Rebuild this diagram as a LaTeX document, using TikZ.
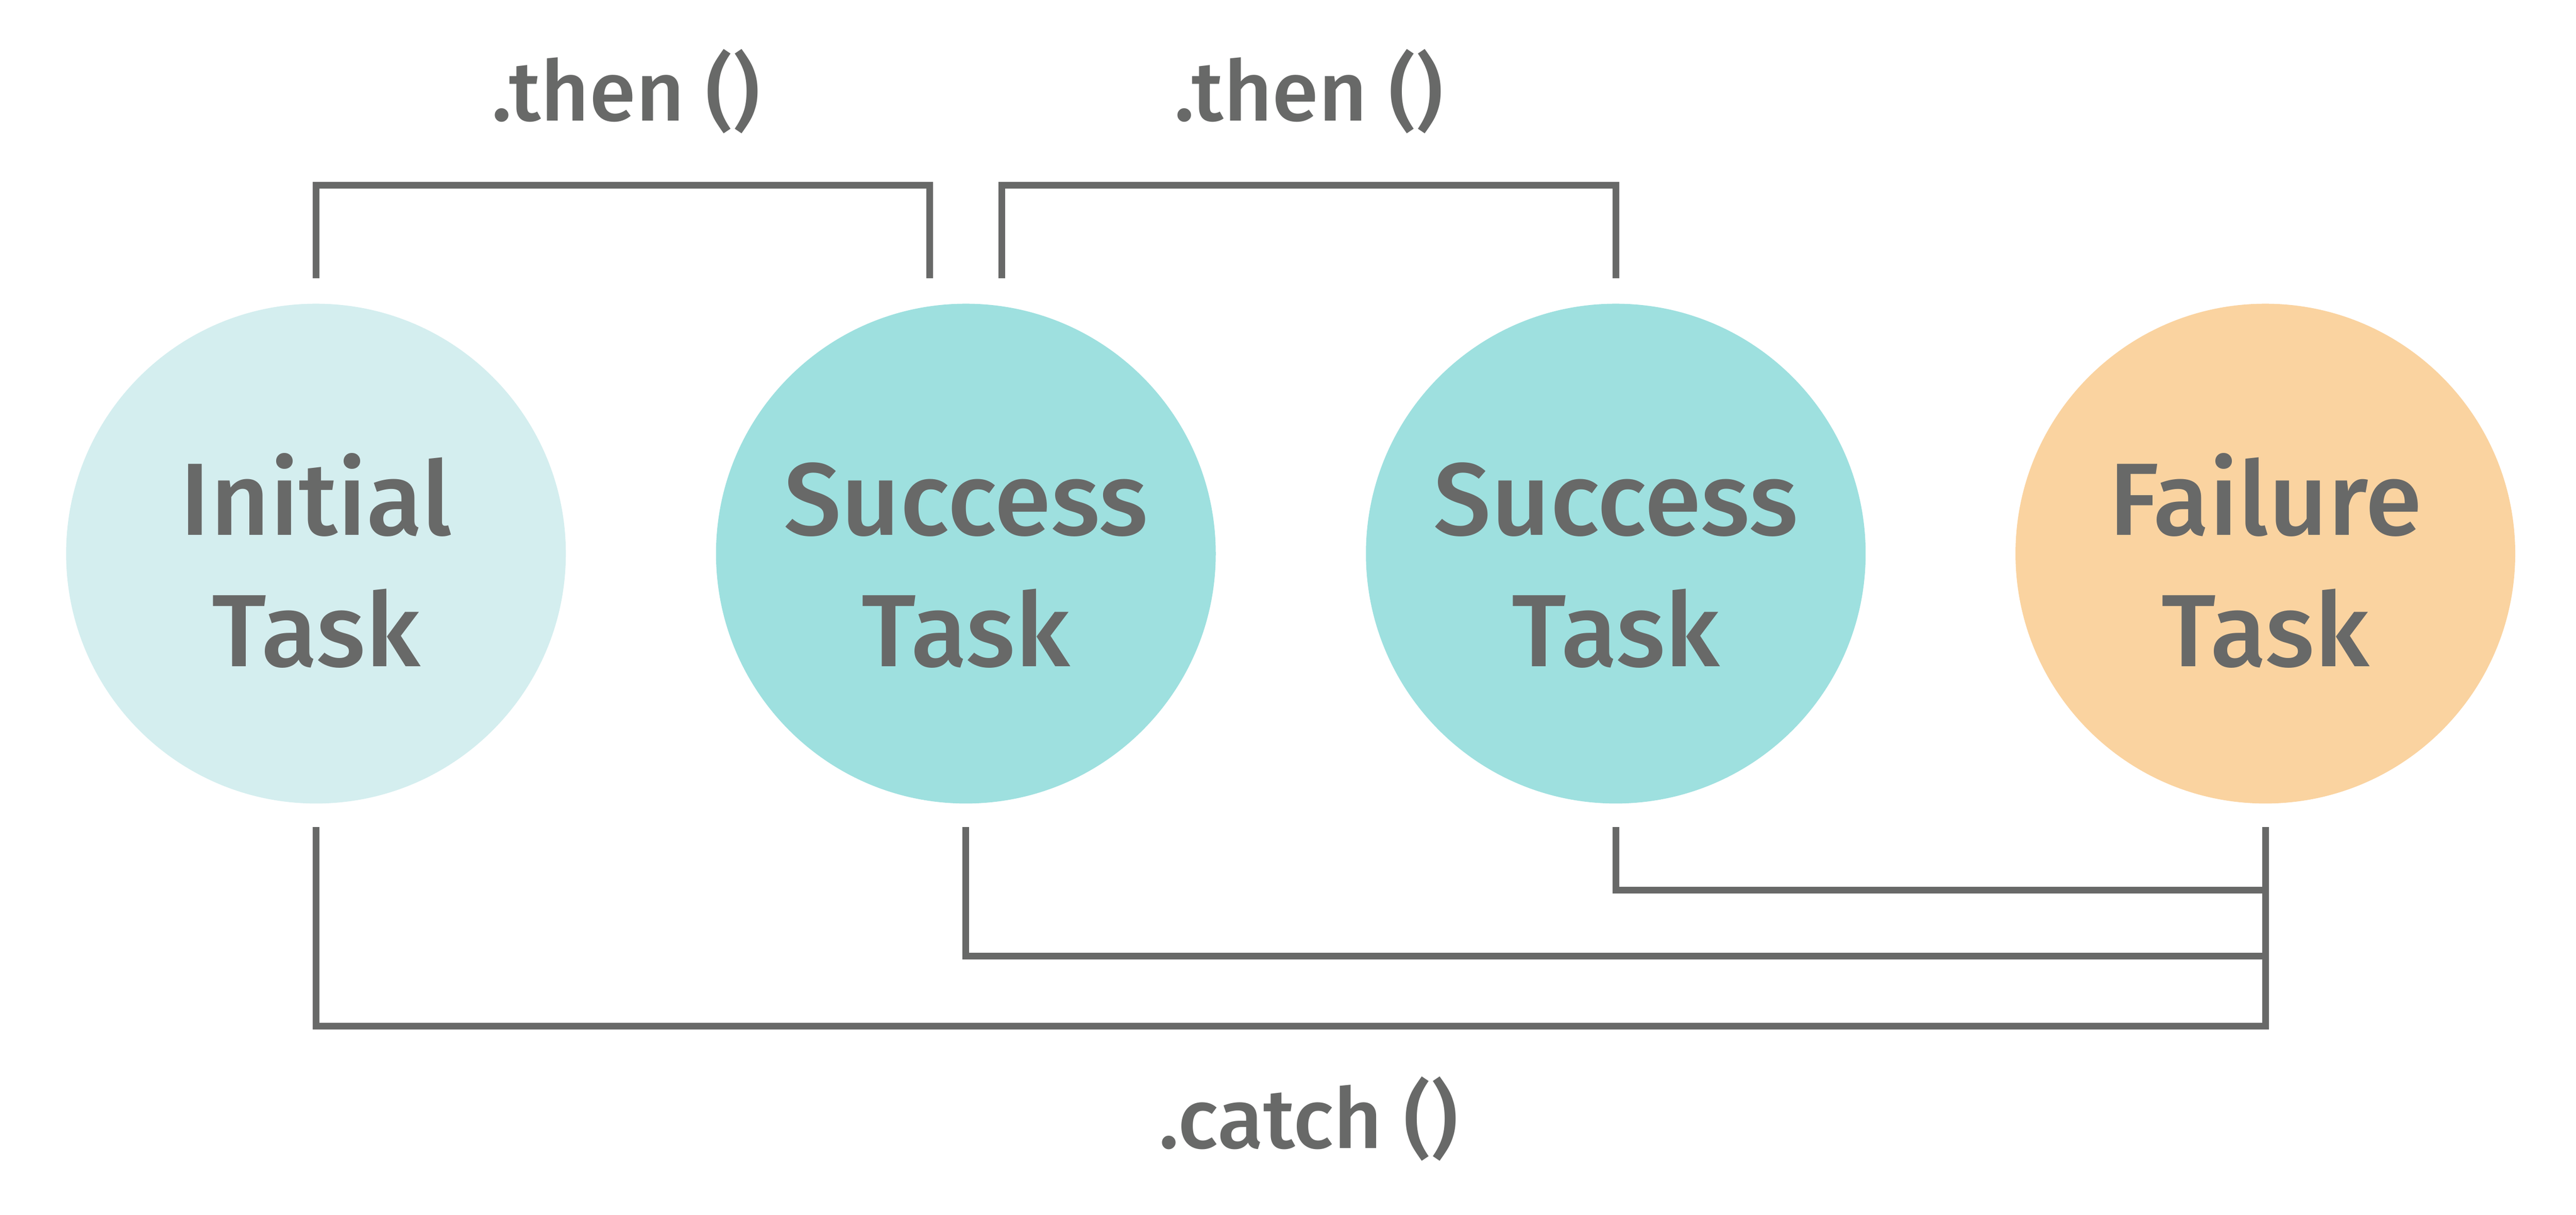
\documentclass[tikz,border=0pt]{standalone}
\usepackage{fontspec}
\setmainfont{Fira Sans}[UprightFont={* Medium}]
\definecolor{linegray}{RGB}{104,105,104}
\definecolor{initfill}{RGB}{212,238,239}
\definecolor{succfill}{RGB}{158,224,223}
\definecolor{failfill}{RGB}{250,211,160}
\begin{document}
\begin{tikzpicture}[
  taskcirc/.style={circle, draw=none, minimum size=15.04cm, inner sep=0pt},
  tasktext/.style={anchor=base, inner sep=0pt, text=linegray, font=\fontsize{88}{112.5}\selectfont},
  methodlabel/.style={anchor=base, inner sep=0pt, text=linegray, font=\fontsize{72}{86}\selectfont},
  conn/.style={draw=linegray, line width=0.2cm, line join=miter, line cap=butt}
]
\useasboundingbox (0,0) rectangle (77.53,-36.55);
\fill[white] (0,0) rectangle (77.53,-36.55);

% circles
\node[taskcirc, fill=initfill] (c1) at (9.51,-16.66) {};
\node[taskcirc, fill=succfill] (c2) at (29.07,-16.66) {};
\node[taskcirc, fill=succfill] (c3) at (48.63,-16.66) {};
\node[taskcirc, fill=failfill] (c4) at (68.18,-16.66) {};

% texts
\node[tasktext] (t1) at (9.51,-16.10) {\begin{tabular}[t]{@{}c@{}}Initial\\Task\end{tabular}};
\node[tasktext] (t2) at (29.07,-16.10) {\begin{tabular}[t]{@{}c@{}}Success\\Task\end{tabular}};
\node[tasktext] (t3) at (48.63,-16.10) {\begin{tabular}[t]{@{}c@{}}Success\\Task\end{tabular}};
\node[tasktext] (t4) at (68.18,-16.10) {\begin{tabular}[t]{@{}c@{}}Failure\\Task\end{tabular}};

% connector end points
\coordinate (a1) at ([yshift=0.76cm]c1.north);
\coordinate (a2) at ([xshift=-1.09cm,yshift=0.76cm]c2.north);
\coordinate (b2) at ([xshift=1.08cm,yshift=0.76cm]c2.north);
\coordinate (b3) at ([yshift=0.76cm]c3.north);
\coordinate (top) at (0,-5.57);

\coordinate (s1) at ([yshift=-0.70cm]c1.south);
\coordinate (s2) at ([yshift=-0.70cm]c2.south);
\coordinate (s3) at ([yshift=-0.70cm]c3.south);
\coordinate (s4) at ([yshift=-0.70cm]c4.south);
\coordinate (lowA) at (0,-30.88);
\coordinate (lowB) at (0,-28.77);
\coordinate (lowC) at (0,-26.79);

% .then brackets
\draw[conn] (a1) -- (a1 |- top) -- (a2 |- top) -- (a2);
\draw[conn] (b2) -- (b2 |- top) -- (b3 |- top) -- (b3);

% .catch lines
\draw[conn] (s1) -- (s1 |- lowA) -- (s4 |- lowA) -- (s4);
\draw[conn] (s2) -- (s2 |- lowB) -- (s4 |- lowB);
\draw[conn] (s3) -- (s3 |- lowC) -- (s4 |- lowC);

% labels
\node[methodlabel] (l1) at (18.84,-3.64) {.then ()};
\node[methodlabel] (l2) at (39.39,-3.64) {.then ()};
\node[methodlabel] (l3) at (39.38,-34.55) {.catch ()};
\end{tikzpicture}
\end{document}
